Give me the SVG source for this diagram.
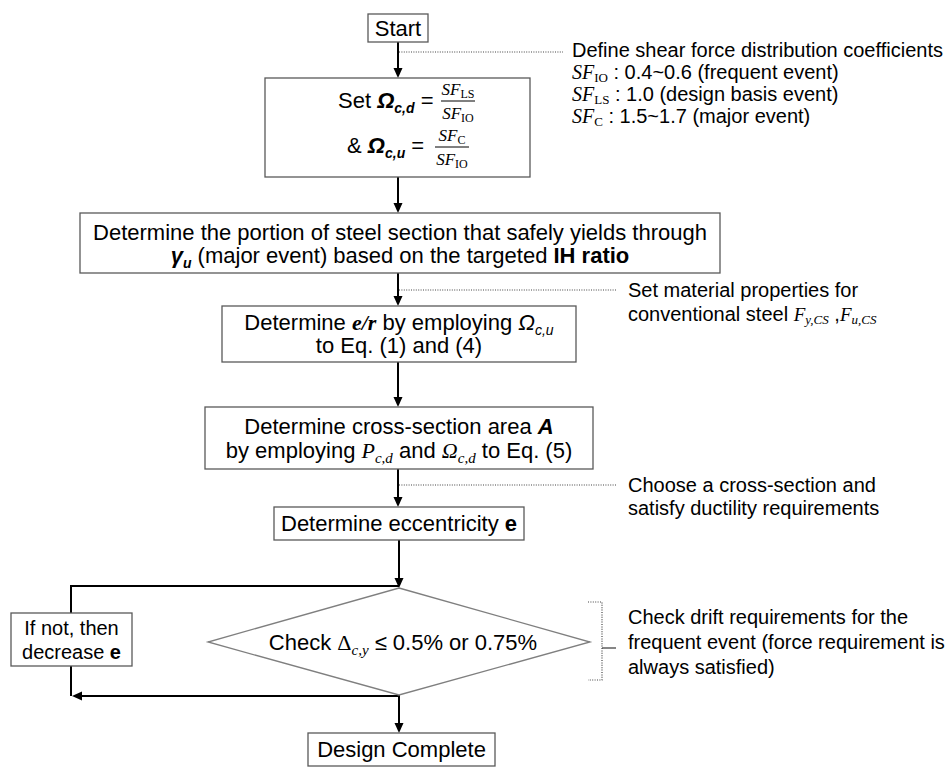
<svg xmlns="http://www.w3.org/2000/svg" width="947" height="767" viewBox="0 0 947 767">
<style>
text { font-family: "Liberation Sans", Arial, sans-serif; fill: #000; }
.t22 { font-size: 22px; }
.t20 { font-size: 20px; }
.ser { font-family: "Liberation Serif", "Times New Roman", serif; }
.it { font-style: italic; }
.bd { font-weight: bold; }
.box { fill: #fff; stroke: #595959; stroke-width: 1.3; }
.dia { fill: #fff; stroke: #7f7f7f; stroke-width: 1.3; }
.arr { fill: none; stroke: #000; stroke-width: 2; marker-end: url(#ah); }
.ln { fill: none; stroke: #000; stroke-width: 2; }
.dot { fill: none; stroke: #444; stroke-width: 1.2; stroke-dasharray: 1 1.4; }
.bar { stroke: #000; stroke-width: 1; }
</style>
<defs>
<marker id="ah" markerWidth="10" markerHeight="10" refX="4" refY="5" orient="auto" markerUnits="userSpaceOnUse">
<path d="M0,0.5 L10,5 L0,9.5 z" fill="#000"/>
</marker>
</defs>
<rect width="947" height="767" fill="#fff"/>

<g id="connectors">
<line class="arr" x1="398" y1="42" x2="398" y2="72"/>
<line class="arr" x1="398" y1="177" x2="398" y2="207"/>
<line class="arr" x1="398" y1="273" x2="398" y2="300"/>
<line class="arr" x1="398" y1="362" x2="398" y2="401"/>
<line class="arr" x1="398" y1="469" x2="398" y2="501"/>
<line class="arr" x1="399" y1="540" x2="399" y2="582"/>
<polyline class="ln" points="71,613 71,586 399,586"/>
<line class="ln" x1="71" y1="666" x2="71" y2="696"/>
<line class="arr" x1="399" y1="696" x2="78" y2="696"/>
<line class="arr" x1="399" y1="695" x2="399" y2="727"/>
<line class="dot" x1="399" y1="52" x2="563" y2="52"/>
<line class="dot" x1="399" y1="290" x2="617" y2="290"/>
<line class="dot" x1="399" y1="485" x2="617" y2="485"/>
<polyline class="dot" points="588,602 602,602 602,680 588,680"/>
<line x1="602" y1="648" x2="616" y2="648" stroke="#444" stroke-width="1.3"/>
</g>

<g id="start">
<rect class="box" x="368" y="14" width="60" height="28"/>
<text class="t22" x="398" y="36" text-anchor="middle">Start</text>
</g>

<g id="note-sf">
<text class="t20" x="572" y="57">Define shear force distribution coefficients</text>
<text class="t20" x="572" y="79"><tspan class="ser it">SF</tspan><tspan class="ser" font-size="13" dy="3">IO</tspan><tspan dy="-3"> : 0.4~0.6 (frequent event)</tspan></text>
<text class="t20" x="572" y="101"><tspan class="ser it">SF</tspan><tspan class="ser" font-size="13" dy="3">LS</tspan><tspan dy="-3"> : 1.0 (design basis event)</tspan></text>
<text class="t20" x="572" y="123"><tspan class="ser it">SF</tspan><tspan class="ser" font-size="13" dy="3">C</tspan><tspan dy="-3"> : 1.5~1.7 (major event)</tspan></text>
</g>

<g id="set-omega">
<rect class="box" x="265" y="78" width="265" height="99"/>
<text class="t22" x="338" y="108">Set <tspan class="bd it">Ω</tspan><tspan class="bd it" font-size="14" dy="5">c,d</tspan><tspan dy="-5"> =</tspan></text>
<text class="ser" x="458" y="95" text-anchor="middle"><tspan class="it" font-size="17">SF</tspan><tspan font-size="12" dy="3">LS</tspan></text>
<line class="bar" x1="441" y1="101" x2="475" y2="101"/>
<text class="ser" x="458" y="119" text-anchor="middle"><tspan class="it" font-size="17">SF</tspan><tspan font-size="12" dy="3">IO</tspan></text>
<text class="t22" x="347" y="153">&amp; <tspan class="bd it">Ω</tspan><tspan class="bd it" font-size="14" dy="5">c,u</tspan><tspan dy="-5"> =</tspan></text>
<text class="ser" x="452" y="141" text-anchor="middle"><tspan class="it" font-size="17">SF</tspan><tspan font-size="12" dy="3">C</tspan></text>
<line class="bar" x1="435" y1="147" x2="469" y2="147"/>
<text class="ser" x="452" y="165" text-anchor="middle"><tspan class="it" font-size="17">SF</tspan><tspan font-size="12" dy="3">IO</tspan></text>
</g>

<g id="yield-portion">
<rect class="box" x="80" y="213" width="640" height="60"/>
<text class="t22" x="400" y="240" text-anchor="middle">Determine the portion of steel section that safely yields through</text>
<text class="t22" x="400" y="263" text-anchor="middle"><tspan class="bd it">γ</tspan><tspan class="bd it" font-size="14" dy="5">u</tspan><tspan dy="-5"> (major event) based on the targeted </tspan><tspan class="bd">IH ratio</tspan></text>
</g>

<g id="note-material">
<text class="t20" x="628" y="297">Set material properties for</text>
<text class="t20" x="628" y="321">conventional steel <tspan class="ser it" font-size="19">F</tspan><tspan class="ser it" font-size="13" dy="3">y,CS</tspan><tspan dy="-3"> ,</tspan><tspan class="ser it" font-size="19">F</tspan><tspan class="ser it" font-size="13" dy="3">u,CS</tspan></text>
</g>

<g id="e-over-r">
<rect class="box" x="222" y="306" width="354" height="56"/>
<text class="t22" x="399" y="330" text-anchor="middle">Determine <tspan class="ser bd it">e/r</tspan> by employing <tspan class="it">Ω</tspan><tspan class="it" font-size="14" dy="5">c,u</tspan></text>
<text class="t22" x="399" y="353" text-anchor="middle">to Eq. (1) and (4)</text>
</g>

<g id="area">
<rect class="box" x="205" y="407" width="388" height="62"/>
<text class="t22" x="399" y="434" text-anchor="middle">Determine cross-section area <tspan class="bd it">A</tspan></text>
<text class="t22" x="399" y="458" text-anchor="middle">by employing <tspan class="ser it">P</tspan><tspan class="ser it" font-size="15" dy="5">c,d</tspan><tspan dy="-5"> and </tspan><tspan class="ser it">Ω</tspan><tspan class="ser it" font-size="15" dy="5">c,d</tspan><tspan dy="-5"> to Eq. (5)</tspan></text>
</g>

<g id="note-section">
<text class="t20" x="628" y="492">Choose a cross-section and</text>
<text class="t20" x="628" y="515">satisfy ductility requirements</text>
</g>

<g id="eccentricity">
<rect class="box" x="274" y="507" width="250" height="33"/>
<text class="t22" x="399" y="531" text-anchor="middle">Determine eccentricity <tspan class="bd">e</tspan></text>
</g>

<g id="check-drift">
<polygon class="dia" points="399,588 590,642 399,695 208,642"/>
<text class="t22" x="403" y="650" text-anchor="middle">Check <tspan class="ser">Δ</tspan><tspan class="ser it" font-size="15" dy="5">c,y</tspan><tspan dy="-5"> ≤ 0.5% or 0.75%</tspan></text>
</g>

<g id="decrease-e">
<rect class="box" x="11" y="613" width="121" height="53"/>
<text class="t20" x="71.5" y="635" text-anchor="middle">If not, then</text>
<text class="t20" x="71.5" y="659" text-anchor="middle">decrease <tspan class="bd">e</tspan></text>
</g>

<g id="note-drift">
<text class="t20" x="628" y="624">Check drift requirements for the</text>
<text class="t20" x="628" y="649">frequent event (force requirement is</text>
<text class="t20" x="628" y="674">always satisfied)</text>
</g>

<g id="design-complete">
<rect class="box" x="308" y="733" width="187" height="33"/>
<text class="t22" x="401.5" y="757" text-anchor="middle">Design Complete</text>
</g>
</svg>
